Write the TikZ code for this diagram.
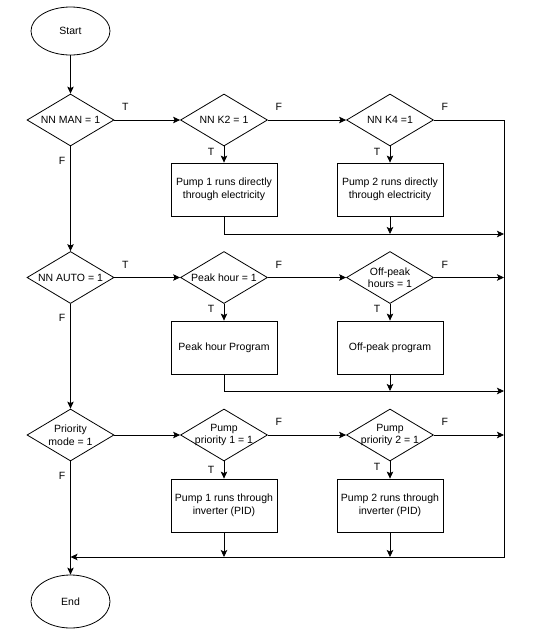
\documentclass[tikz,border=0pt]{standalone}
\usepackage{fontspec}
\setmainfont{Liberation Sans}
\usetikzlibrary{arrows.meta,calc,positioning,shapes}
\usetikzlibrary{shapes.geometric}
\tikzset{%
	startstop/.style = {draw, ellipse, minimum width=79pt, minimum height=48pt, text centered},
	process/.style   = {draw, rectangle, minimum width=106pt, minimum height=53pt, align=center},
	decision/.style  = {draw, diamond, aspect=1.7, inner xsep=-8pt, inner ysep=0pt, minimum width=87pt, minimum height=52pt, align=center},
	arrow/.style     = {-{Stealth[length=7pt,width=6.5pt,inset=1.5pt]}},
	rlbl/.style      = {pos=0, xshift=11pt, yshift=13pt},
	dlbl/.style      = {pos=0, xshift=-13pt, yshift=-5pt},
	flbl/.style      = {pos=0, xshift=-8.5pt, yshift=-14pt},
}

\begin{document}
\begin{tikzpicture}[x=1pt,y=-1pt,line width=0.8pt,every node/.style={font=\fontsize{10.5}{12.5}\selectfont}]
	\useasboundingbox (0,0) rectangle (552,638);
	
	\node[startstop] (start) at (70.5,31) {Start};
	\node[decision] (man) at (70.5,120) {NN MAN = 1};
	\node[decision] (ktwo) at (224,120) {NN K2 = 1};
	\node[decision] (kfour) at (390,120) {NN K4 =1};
	\node[process] (pumpone) at (224,189.5) {Pump 1 runs directly\\through electricity};
	\node[process] (pumptwo) at (390,189.5) {Pump 2 runs directly\\through electricity};
	
	\node[decision] (auto) at (70.5,277.5) {NN AUTO = 1};
	\node[decision] (peak) at (224,277.5) {Peak hour = 1};
	\node[decision] (offpeak) at (390,277.5) {Off-peak\\hours = 1};
	\node[process] (peakprog) at (224,347.5) {Peak hour Program};
	\node[process] (offprog) at (390,347.5) {Off-peak program};
	
	\node[decision] (prio) at (70.5,435) {Priority\\mode = 1};
	\node[decision] (prioone) at (224,435) {Pump\\priority 1 = 1};
	\node[decision] (priotwo) at (390,435) {Pump\\priority 2 = 1};
	\node[process] (invone) at (224,505.5) {Pump 1 runs through\\inverter (PID)};
	\node[process] (invtwo) at (390,505.5) {Pump 2 runs through\\inverter (PID)};
	\node[startstop, minimum height=53pt] (end) at (70.5,601.5) {End};
	
	\coordinate (rtop) at (504,120);
	\coordinate (rbot) at (504,557);
	\coordinate (lbot) at (70.5,557);
	\coordinate (mone) at (504,234);
	\coordinate (mtwo) at (504,391);
	
	% main column
	\draw[arrow] (start) -- (man);
	\draw[arrow] (man) -- node[flbl] {F} (auto);
	\draw[arrow] (auto) -- node[flbl] {F} (prio);
	\draw[arrow] (prio) -- node[flbl] {F} (end);
	
	% manual
	\draw[arrow] (man) -- node[rlbl] {T} (ktwo);
	\draw[arrow] (ktwo) -- node[rlbl] {F} (kfour);
	\draw[arrow] (ktwo) -- node[dlbl] {T} (pumpone);
	\draw[arrow] (kfour) -- node[dlbl] {T} (pumptwo);
	\draw[arrow] (kfour) -- node[rlbl] {F} (rtop) -- (rbot) -- (lbot);
	\draw[arrow] (pumpone) |- (mone);
	\draw[arrow] (pumptwo) -- (pumptwo |- mone);
	
	% auto
	\draw[arrow] (auto) -- node[rlbl] {T} (peak);
	\draw[arrow] (peak) -- node[rlbl] {F} (offpeak);
	\draw[arrow] (peak) -- node[dlbl] {T} (peakprog);
	\draw[arrow] (offpeak) -- node[dlbl] {T} (offprog);
	\draw[arrow] (offpeak) -- node[rlbl] {F} (offpeak -| rtop);
	\draw[arrow] (peakprog) |- (mtwo);
	\draw[arrow] (offprog) -- (offprog |- mtwo);
	
	% priority
	\draw[arrow] (prio) -- (prioone);
	\draw[arrow] (prioone) -- node[rlbl] {F} (priotwo);
	\draw[arrow] (prioone) -- node[dlbl,yshift=-3pt] {T} (invone);
	\draw[arrow] (priotwo) -- node[dlbl] {T} (invtwo);
	\draw[arrow] (priotwo) -- node[rlbl] {F} (priotwo -| rtop);
	\draw[arrow] (invone) -- (invone |- lbot);
	\draw[arrow] (invtwo) -- (invtwo |- lbot);
\end{tikzpicture}
\end{document}
